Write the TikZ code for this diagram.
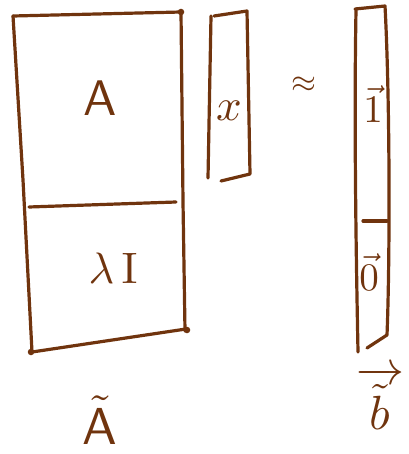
\documentclass[tikz,border=0pt]{standalone}
\usepackage{amsmath}
\definecolor{ink}{RGB}{112,52,14}
\begin{document}
\begin{tikzpicture}[x=1pt,y=-1pt,
  pen/.style={draw=ink,line width=3.2pt,line cap=round,line join=round},
  lbl/.style={text=ink,inner sep=0pt},
  dot/.style={fill=ink,circle,inner sep=0pt,minimum size=6.5pt}]
\useasboundingbox (0,0) rectangle (408,454);
% big matrix
\draw[pen] (13,16) -- (181,12) -- (183,202) -- (185,331);
\draw[pen] (13,16) -- (23,180) -- (32,352) -- (186,329);
\draw[pen] (29,207) -- (176,202);
\node[dot] (c1) at (181,12) {};
\node[dot] (c2) at (187,330) {};
\node[dot] (c3) at (31,352) {};
\node[lbl,scale=5] (A) at (100,98) {$\mathsf{A}$};
\node[lbl,scale=4.4] (LI) at (113,268) {$\lambda\,\mathrm{I}$};
% x vector
\draw[pen] (214,16) -- (247,11) -- (250,174) -- (221,181);
\draw[pen] (211,16) -- (208,178);
\node[lbl,scale=4.5] (x) at (229,111) {$x$};
% approx
\node[lbl,scale=3.2] (ap) at (304,85) {$\approx$};
% b vector
\draw[pen] (356,10) .. controls (354,120) and (356,250) .. (358,352);
\draw[pen] (355,9) -- (385,6) .. controls (390,100) and (390,260) .. (387,335) -- (367,348);
\draw[pen] (363,221) -- (387,221);
\node[lbl,scale=3.9] (one) at (373,104) {$\vec{\mathrm{1}}$};
\node[lbl,scale=3.9] (zero) at (369,272) {$\vec{0}$};
% labels
\node[lbl,scale=5.2] (At) at (100,420) {$\tilde{\mathsf{A}}$};
\node[lbl,scale=4.8] (bt) at (380,398) {$\overrightarrow{\tilde{b}}$};
\end{tikzpicture}
\end{document}
